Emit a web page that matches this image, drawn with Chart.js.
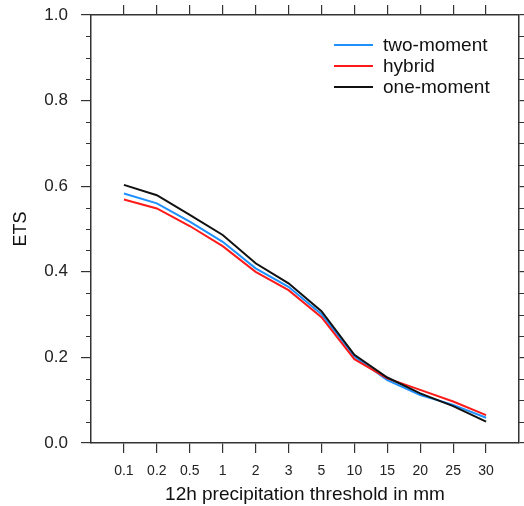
<!DOCTYPE html>
<html>
<head>
<meta charset="utf-8">
<script src="https://cdn.jsdelivr.net/npm/chart.js@4/dist/chart.umd.min.js"></script>
<style>
  html, body { margin: 0; padding: 0; background: #fff; }
  #wrap { width: 524px; height: 506px; }
</style>
</head>
<body>
<div id="wrap"><canvas id="etsgraph"></canvas></div>
<script>
// thresholds (12h precipitation, mm)
var thresholds = ['0.1', '0.2', '0.5', '1', '2', '3', '5', '10', '15', '20', '25', '30'];
var twoMoment = [0.583, 0.560, 0.517, 0.470, 0.408, 0.365, 0.301, 0.202, 0.147, 0.112, 0.089, 0.059];
var hybrid    = [0.569, 0.548, 0.507, 0.460, 0.400, 0.357, 0.294, 0.196, 0.151, 0.124, 0.097, 0.065];
var oneMoment = [0.603, 0.579, 0.533, 0.486, 0.420, 0.373, 0.308, 0.206, 0.153, 0.116, 0.086, 0.050];
var yTicks = [0, 0.2, 0.4, 0.6, 0.8, 1.0];

var axisColor = '#333';
var fontFam = "'Liberation Sans', Arial, Helvetica, sans-serif";

function toPoints(arr) {
    return arr.map(function (v, i) { return { x: i, y: v }; });
}

// draws minor ticks on left/right y axis and the legend box in the top right
var ncarStuff = {
    id: 'ncarStuff',
    afterDraw: function (chart) {
        var ctx = chart.ctx;
        var ca = chart.chartArea;
        var ys = chart.scales.y;
        ctx.save();
        ctx.strokeStyle = axisColor;
        ctx.lineWidth = 1;
        for (var k = 1; k < 20; k++) {
            if (k % 4 == 0) continue; // majors are drawn by chart.js
            var py = Math.round(ys.getPixelForValue(k * 0.05)) + 0.5;
            ctx.beginPath();
            ctx.moveTo(ca.left - 5, py); ctx.lineTo(ca.left, py);
            ctx.moveTo(ca.right, py); ctx.lineTo(ca.right + 5, py);
            ctx.stroke();
        }
        // legend
        var lx = ca.right - 185;
        var ly = ca.top + 30;
        var rows = [0, 1, 2];
        ctx.font = '19px ' + fontFam;
        ctx.textBaseline = 'middle';
        ctx.textAlign = 'left';
        rows.forEach(function (i) {
            var ds = chart.data.datasets[i];
            var yy = ly + i * 21;
            ctx.strokeStyle = ds.borderColor;
            ctx.lineWidth = 2;
            ctx.beginPath();
            ctx.moveTo(lx, yy); ctx.lineTo(lx + 39, yy);
            ctx.stroke();
            ctx.fillStyle = '#111';
            ctx.fillText(ds.label, lx + 49, yy + 1);
        });
        ctx.restore();
    }
};

var catTicks = function (scale) {
    scale.ticks = thresholds.map(function (t, i) { return { value: i }; });
};

// fixed axis sizes, no extra padding for overflowing labels
function fixSize(w, h) {
    return function (s) {
        if (w != null) s.width = w;
        if (h != null) s.height = h;
        s.paddingTop = 0; s.paddingBottom = 0;
        s.paddingLeft = 0; s.paddingRight = 0;
    };
}

new Chart(document.getElementById('etsgraph'), {
    type: 'line',
    data: {
        datasets: [{
                label: 'two-moment',
                data: toPoints(twoMoment),
                borderColor: '#1e90ff',
                borderWidth: 2,
                pointRadius: 0,
                order: 2
            },
            {
                label: 'hybrid',
                data: toPoints(hybrid),
                borderColor: '#ff1a1a',
                borderWidth: 2,
                pointRadius: 0,
                order: 1
            },
            {
                label: 'one-moment',
                data: toPoints(oneMoment),
                borderColor: '#111111',
                borderWidth: 2,
                pointRadius: 0,
                order: 0
            }
        ]
    },
    options: {
        responsive: true,
        maintainAspectRatio: false,
        animation: false,
        layout: { padding: 0 },
        plugins: {
            legend: { display: false },
            tooltip: { enabled: false }
        },
        scales: {
            x: {
                type: 'linear',
                position: 'bottom',
                min: -1,
                max: 12,
                afterBuildTicks: catTicks,
                afterFit: fixSize(null, 63),
                grid: { drawOnChartArea: false, drawTicks: true, tickLength: 10, color: axisColor, lineWidth: 1.2 },
                border: { display: true, color: axisColor, width: 1.5 },
                ticks: {
                    autoSkip: false,
                    maxRotation: 0,
                    padding: 10,
                    color: '#222',
                    font: { family: fontFam, size: 14 },
                    callback: function (v) { return thresholds[v]; }
                },
                title: {
                    display: true,
                    text: '12h precipitation threshold in mm',
                    color: '#111',
                    font: { family: fontFam, size: 19 },
                    padding: { top: 4, bottom: 0 }
                }
            },
            xTop: {
                type: 'linear',
                position: 'top',
                min: -1,
                max: 12,
                afterBuildTicks: catTicks,
                afterFit: fixSize(null, 15),
                grid: { drawOnChartArea: false, drawTicks: true, tickLength: 10, color: axisColor, lineWidth: 1.2 },
                border: { display: true, color: axisColor, width: 1.5 },
                ticks: { display: false }
            },
            y: {
                position: 'left',
                min: 0,
                max: 1,
                afterBuildTicks: function (s) { s.ticks = yTicks.map(function (v) { return { value: v }; }); },
                afterFit: fixSize(91, null),
                grid: { drawOnChartArea: false, drawTicks: true, tickLength: 10, color: axisColor, lineWidth: 1.2 },
                border: { display: true, color: axisColor, width: 1.5 },
                ticks: {
                    padding: 13,
                    color: '#222',
                    font: { family: fontFam, size: 17 },
                    callback: function (v) { return v.toFixed(1); }
                },
                title: {
                    display: true,
                    text: 'ETS',
                    color: '#111',
                    font: { family: fontFam, size: 18 },
                    padding: { top: 10, bottom: 0 }
                }
            },
            yRight: {
                position: 'right',
                min: 0,
                max: 1,
                afterBuildTicks: function (s) { s.ticks = yTicks.map(function (v) { return { value: v }; }); },
                afterFit: fixSize(5, null),
                grid: { drawOnChartArea: false, drawTicks: true, tickLength: 10, color: axisColor, lineWidth: 1.2 },
                border: { display: true, color: axisColor, width: 1.5 },
                ticks: { display: false }
            }
        }
    },
    plugins: [ncarStuff]
});
</script>
</body>
</html>
